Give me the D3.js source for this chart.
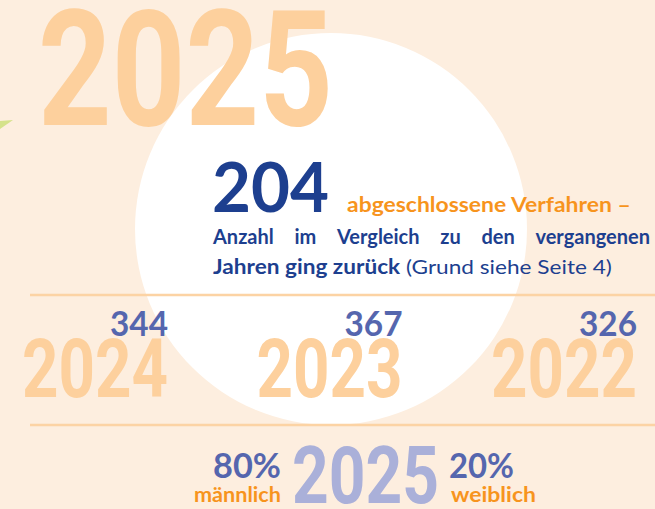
<!DOCTYPE html>
<html>
<head>
<meta charset="utf-8">
<script src="https://cdn.jsdelivr.net/npm/d3@7"></script>
<style>
  body { margin: 0; background: #fdeedf; }
  svg { display: block; }
</style>
</head>
<body>
<div id="chart"></div>
<script>
var headlineYear = "2025";
var totalCases = 204;
var prevYears = ["2024", "2023", "2022"];
var prevCounts = [344, 367, 326];
var genderLabels = ["männlich", "weiblich"];
var genderShares = [80, 20];
var introText = "abgeschlossene Verfahren –";
var line2Words = ["Anzahl", "im", "Vergleich", "zu", "den", "vergangenen"];
var line3Bold = "Jahren ging zurück";
var line3Plain = " (Grund siehe Seite 4)";

var width = 655, height = 509;

var bg = "#fdeedf",
    lightOrange = "#fdd09d",
    orange = "#f7941d",
    navy = "#1d3f8f",
    countBlue = "#5566ae",
    lilac = "#aab0d9";

var svg = d3.select("#chart")
  .append("svg")
  .attr("width", width)
  .attr("height", height);

// squeeze / stretch a text so that it spans x0..x1 (used for the condensed numbers)
function fit(sel, x0, x1) {
  var bb = sel.node().getBBox();
  var s = (x1 - x0) / bb.width;
  sel.attr("transform", "translate(" + (x0 - bb.x * s) + ",0) scale(" + s + ",1)");
  return sel;
}

svg.append("rect")
  .attr("width", width)
  .attr("height", height)
  .attr("fill", bg);

// little green leaf tip on the left edge
svg.append("path")
  .attr("d", "M0,121 L13,120 L0,129 Z")
  .attr("fill", "#d5e28b");

// big white circle
svg.append("circle")
  .attr("cx", 331)
  .attr("cy", 229)
  .attr("r", 196)
  .attr("fill", "#ffffff");

// headline year
var big = svg.append("text")
  .attr("x", 0)
  .attr("y", 125)
  .attr("font-family", "Roboto")
  .attr("font-weight", 700)
  .attr("font-size", 162)
  .attr("fill", lightOrange)
  .text(headlineYear);
fit(big, 38, 333);

// "204 abgeschlossene Verfahren –"
var total = svg.append("text")
  .attr("x", 0)
  .attr("y", 212)
  .attr("font-family", "Lato")
  .attr("font-weight", 700)
  .attr("font-size", 69)
  .attr("fill", navy)
  .text(totalCases);
fit(total, 212, 329);

var intro = svg.append("text")
  .attr("x", 0)
  .attr("y", 212)
  .attr("font-family", "Lato")
  .attr("font-weight", 700)
  .attr("font-size", 20)
  .attr("fill", orange)
  .text(introText);
fit(intro, 347, 631);

// justified second line: words spread between 213 and 650
var words = svg.append("g")
  .attr("font-family", "Lato")
  .attr("font-weight", 700)
  .attr("font-size", 20)
  .attr("fill", navy);
var wordNodes = words.selectAll("text")
  .data(line2Words)
  .enter()
  .append("text")
  .attr("y", 244)
  .text(function(d) { return d; });
var widths = wordNodes.nodes().map(function(n) { return n.getComputedTextLength(); });
var sumW = d3.sum(widths);
var lineW = 650 - 213;
var squeeze = Math.min(1, (lineW - 6 * (line2Words.length - 1)) / sumW);
var gap = (lineW - sumW * squeeze) / (line2Words.length - 1);
var cursor = 213;
wordNodes.each(function(d, i) {
  d3.select(this).attr("transform", "translate(" + cursor + ",0) scale(" + squeeze + ",1)");
  cursor += widths[i] * squeeze + gap;
});

var line3 = svg.append("text")
  .attr("x", 0)
  .attr("y", 274)
  .attr("font-family", "Lato")
  .attr("font-size", 20)
  .attr("fill", navy);
line3.append("tspan").attr("font-weight", 700).text(line3Bold);
line3.append("tspan").attr("font-weight", 400).text(line3Plain);
fit(line3, 213, 612);

// separator lines
svg.selectAll(".sep")
  .data([295, 425])
  .enter()
  .append("line")
  .attr("class", "sep")
  .attr("x1", 30)
  .attr("x2", width)
  .attr("y1", function(d) { return d; })
  .attr("y2", function(d) { return d; })
  .attr("stroke", "#fcd3a4")
  .attr("stroke-width", 2.5);

// previous years: right edge of each column
var xYear = d3.scalePoint()
  .domain(prevYears)
  .range([168, 637]);

prevYears.forEach(function(yr, i) {
  var right = xYear(yr);
  var y = svg.append("text")
    .attr("x", 0)
    .attr("y", 397)
    .attr("font-family", "Roboto")
    .attr("font-weight", 700)
    .attr("font-size", 82)
    .attr("fill", lightOrange)
    .text(yr);
  fit(y, right - 146, right);

  var c = svg.append("text")
    .attr("x", 0)
    .attr("y", 336)
    .attr("font-family", "Lato")
    .attr("font-weight", 700)
    .attr("font-size", 35)
    .attr("fill", countBlue)
    .text(prevCounts[i]);
  fit(c, right - 58, right);
});

// gender split around the year
var yr2 = svg.append("text")
  .attr("x", 0)
  .attr("y", 503)
  .attr("font-family", "Roboto")
  .attr("font-weight", 700)
  .attr("font-size", 79)
  .attr("fill", lilac)
  .text(headlineYear);
fit(yr2, 292, 439);

var xGender = d3.scaleOrdinal()
  .domain(genderLabels)
  .range([[213, 281, 194, 281], [449, 514, 451, 536]]);

genderLabels.forEach(function(g, i) {
  var p = xGender(g);
  var pct = svg.append("text")
    .attr("x", 0)
    .attr("y", 478)
    .attr("font-family", "Lato")
    .attr("font-weight", 700)
    .attr("font-size", 35)
    .attr("fill", countBlue)
    .text(genderShares[i] + "%");
  fit(pct, p[0], p[1]);

  var lab = svg.append("text")
    .attr("x", 0)
    .attr("y", 502)
    .attr("font-family", "Lato")
    .attr("font-weight", 700)
    .attr("font-size", 21)
    .attr("fill", orange)
    .text(g);
  fit(lab, p[2], p[3]);
});
</script>
</body>
</html>
